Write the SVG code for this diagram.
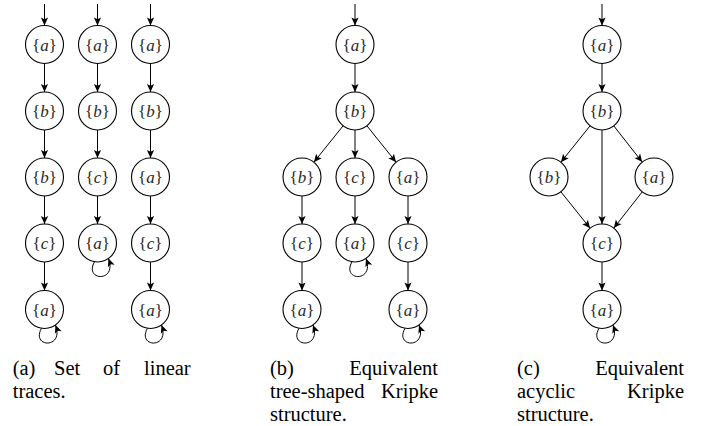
<svg xmlns="http://www.w3.org/2000/svg" width="701" height="426" viewBox="0 0 701 426">
<defs>
<marker id="ah" viewBox="-9 -5 10 10" markerWidth="10" markerHeight="10" refX="0" refY="0" orient="auto" markerUnits="userSpaceOnUse">
<path d="M0,0 L-8,-3.6 L-6.2,0 L-8,3.6 Z" fill="#000"/>
</marker>
<style>
.n circle{fill:#fff;stroke:#000;stroke-width:1.1}
.n text{font-family:"Liberation Serif","Times New Roman",serif;font-size:17px;fill:#2a2a2a;text-anchor:middle}
.n tspan.i{font-style:italic}
#edges path,#edges line{fill:none;stroke:#000;stroke-width:1;marker-end:url(#ah)}
.cap{font-family:"Liberation Serif","Times New Roman",serif;font-size:20.5px;fill:#000}
</style>
</defs>

<g id="edges">
<!-- (a) column 1 -->
<line x1="44.5" y1="4" x2="44.5" y2="25.5"/>
<line x1="44.5" y1="63.5" x2="44.5" y2="92"/>
<line x1="44.5" y1="130" x2="44.5" y2="158"/>
<line x1="44.5" y1="196" x2="44.5" y2="224"/>
<line x1="44.5" y1="262" x2="44.5" y2="290.5"/>
<path d="M41.5,328.3 C30.5,347.5 64.5,349.5 55.5,325"/>
<!-- (a) column 2 -->
<line x1="97.5" y1="4" x2="97.5" y2="25.5"/>
<line x1="97.5" y1="63.5" x2="97.5" y2="92"/>
<line x1="97.5" y1="130" x2="97.5" y2="158"/>
<line x1="97.5" y1="196" x2="97.5" y2="224"/>
<path d="M94.5,261.8 C83.5,281 117.5,283 108.5,258.5"/>
<!-- (a) column 3 -->
<line x1="150.5" y1="4" x2="150.5" y2="25.5"/>
<line x1="150.5" y1="63.5" x2="150.5" y2="92"/>
<line x1="150.5" y1="130" x2="150.5" y2="158"/>
<line x1="150.5" y1="196" x2="150.5" y2="224"/>
<line x1="150.5" y1="262" x2="150.5" y2="290.5"/>
<path d="M147.5,328.3 C136.5,347.5 170.5,349.5 161.5,325"/>
<!-- (b) -->
<line x1="355" y1="4" x2="355" y2="25.5"/>
<line x1="355" y1="63.5" x2="355" y2="92"/>
<line x1="343.1" y1="125.8" x2="313.9" y2="162.2"/>
<line x1="355" y1="130" x2="355" y2="158"/>
<line x1="366.9" y1="125.8" x2="396.1" y2="162.2"/>
<line x1="302" y1="196" x2="302" y2="224"/>
<line x1="355" y1="196" x2="355" y2="224"/>
<line x1="408" y1="196" x2="408" y2="224"/>
<line x1="302" y1="262" x2="302" y2="290.5"/>
<line x1="408" y1="262" x2="408" y2="290.5"/>
<path d="M352,261.8 C341,281 375,283 366,258.5"/>
<path d="M299,328.3 C288,347.5 322,349.5 313,325"/>
<path d="M405,328.3 C394,347.5 428,349.5 419,325"/>
<!-- (c) -->
<line x1="602" y1="4" x2="602" y2="25.5"/>
<line x1="602" y1="63.5" x2="602" y2="92"/>
<line x1="590.1" y1="125.8" x2="560.9" y2="162.2"/>
<line x1="602" y1="130" x2="602" y2="224"/>
<line x1="613.8" y1="125.9" x2="642.2" y2="162.1"/>
<line x1="560.9" y1="191.8" x2="590.1" y2="228.2"/>
<line x1="642.2" y1="191.9" x2="613.8" y2="228.1"/>
<line x1="602" y1="262" x2="602" y2="290.5"/>
<path d="M599,328.3 C588,347.5 622,349.5 613,325"/>
</g>

<!-- (a) nodes -->
<g id="a1_0" class="n"><circle cx="44.5" cy="44.5" r="19"/><text x="44.5" y="50.5">{<tspan class="i">a</tspan>}</text></g>
<g id="a1_1" class="n"><circle cx="44.5" cy="111" r="19"/><text x="44.5" y="117">{<tspan class="i">b</tspan>}</text></g>
<g id="a1_2" class="n"><circle cx="44.5" cy="177" r="19"/><text x="44.5" y="183">{<tspan class="i">b</tspan>}</text></g>
<g id="a1_3" class="n"><circle cx="44.5" cy="243" r="19"/><text x="44.5" y="249">{<tspan class="i">c</tspan>}</text></g>
<g id="a1_4" class="n"><circle cx="44.5" cy="309.5" r="19"/><text x="44.5" y="315.5">{<tspan class="i">a</tspan>}</text></g>

<g id="a2_0" class="n"><circle cx="97.5" cy="44.5" r="19"/><text x="97.5" y="50.5">{<tspan class="i">a</tspan>}</text></g>
<g id="a2_1" class="n"><circle cx="97.5" cy="111" r="19"/><text x="97.5" y="117">{<tspan class="i">b</tspan>}</text></g>
<g id="a2_2" class="n"><circle cx="97.5" cy="177" r="19"/><text x="97.5" y="183">{<tspan class="i">c</tspan>}</text></g>
<g id="a2_3" class="n"><circle cx="97.5" cy="243" r="19"/><text x="97.5" y="249">{<tspan class="i">a</tspan>}</text></g>

<g id="a3_0" class="n"><circle cx="150.5" cy="44.5" r="19"/><text x="150.5" y="50.5">{<tspan class="i">a</tspan>}</text></g>
<g id="a3_1" class="n"><circle cx="150.5" cy="111" r="19"/><text x="150.5" y="117">{<tspan class="i">b</tspan>}</text></g>
<g id="a3_2" class="n"><circle cx="150.5" cy="177" r="19"/><text x="150.5" y="183">{<tspan class="i">a</tspan>}</text></g>
<g id="a3_3" class="n"><circle cx="150.5" cy="243" r="19"/><text x="150.5" y="249">{<tspan class="i">c</tspan>}</text></g>
<g id="a3_4" class="n"><circle cx="150.5" cy="309.5" r="19"/><text x="150.5" y="315.5">{<tspan class="i">a</tspan>}</text></g>

<!-- (b) nodes -->
<g id="b_0" class="n"><circle cx="355" cy="44.5" r="19"/><text x="355" y="50.5">{<tspan class="i">a</tspan>}</text></g>
<g id="b_1" class="n"><circle cx="355" cy="111" r="19"/><text x="355" y="117">{<tspan class="i">b</tspan>}</text></g>
<g id="b_2l" class="n"><circle cx="302" cy="177" r="19"/><text x="302" y="183">{<tspan class="i">b</tspan>}</text></g>
<g id="b_2m" class="n"><circle cx="355" cy="177" r="19"/><text x="355" y="183">{<tspan class="i">c</tspan>}</text></g>
<g id="b_2r" class="n"><circle cx="408" cy="177" r="19"/><text x="408" y="183">{<tspan class="i">a</tspan>}</text></g>
<g id="b_3l" class="n"><circle cx="302" cy="243" r="19"/><text x="302" y="249">{<tspan class="i">c</tspan>}</text></g>
<g id="b_3m" class="n"><circle cx="355" cy="243" r="19"/><text x="355" y="249">{<tspan class="i">a</tspan>}</text></g>
<g id="b_3r" class="n"><circle cx="408" cy="243" r="19"/><text x="408" y="249">{<tspan class="i">c</tspan>}</text></g>
<g id="b_4l" class="n"><circle cx="302" cy="309.5" r="19"/><text x="302" y="315.5">{<tspan class="i">a</tspan>}</text></g>
<g id="b_4r" class="n"><circle cx="408" cy="309.5" r="19"/><text x="408" y="315.5">{<tspan class="i">a</tspan>}</text></g>

<!-- (c) nodes -->
<g id="c_0" class="n"><circle cx="602" cy="44.5" r="19"/><text x="602" y="50.5">{<tspan class="i">a</tspan>}</text></g>
<g id="c_1" class="n"><circle cx="602" cy="111" r="19"/><text x="602" y="117">{<tspan class="i">b</tspan>}</text></g>
<g id="c_2l" class="n"><circle cx="549" cy="177" r="19"/><text x="549" y="183">{<tspan class="i">b</tspan>}</text></g>
<g id="c_2r" class="n"><circle cx="654" cy="177" r="19"/><text x="654" y="183">{<tspan class="i">a</tspan>}</text></g>
<g id="c_3" class="n"><circle cx="602" cy="243" r="19"/><text x="602" y="249">{<tspan class="i">c</tspan>}</text></g>
<g id="c_4" class="n"><circle cx="602" cy="309.5" r="19"/><text x="602" y="315.5">{<tspan class="i">a</tspan>}</text></g>

<!-- captions -->
<g id="captions" class="cap">
<text x="12.7" y="375">(a)</text>
<text x="54" y="375">Set</text>
<text x="103" y="375">of</text>
<text x="190.7" y="375" text-anchor="end">linear</text>
<text x="12.7" y="398">traces.</text>

<text x="270" y="375">(b)</text>
<text x="438" y="375" text-anchor="end">Equivalent</text>
<text x="270" y="398">tree-shaped</text>
<text x="438" y="398" text-anchor="end">Kripke</text>
<text x="270" y="421">structure.</text>

<text x="517" y="375">(c)</text>
<text x="684" y="375" text-anchor="end">Equivalent</text>
<text x="517" y="398">acyclic</text>
<text x="684" y="398" text-anchor="end">Kripke</text>
<text x="517" y="421">structure.</text>
</g>
</svg>
